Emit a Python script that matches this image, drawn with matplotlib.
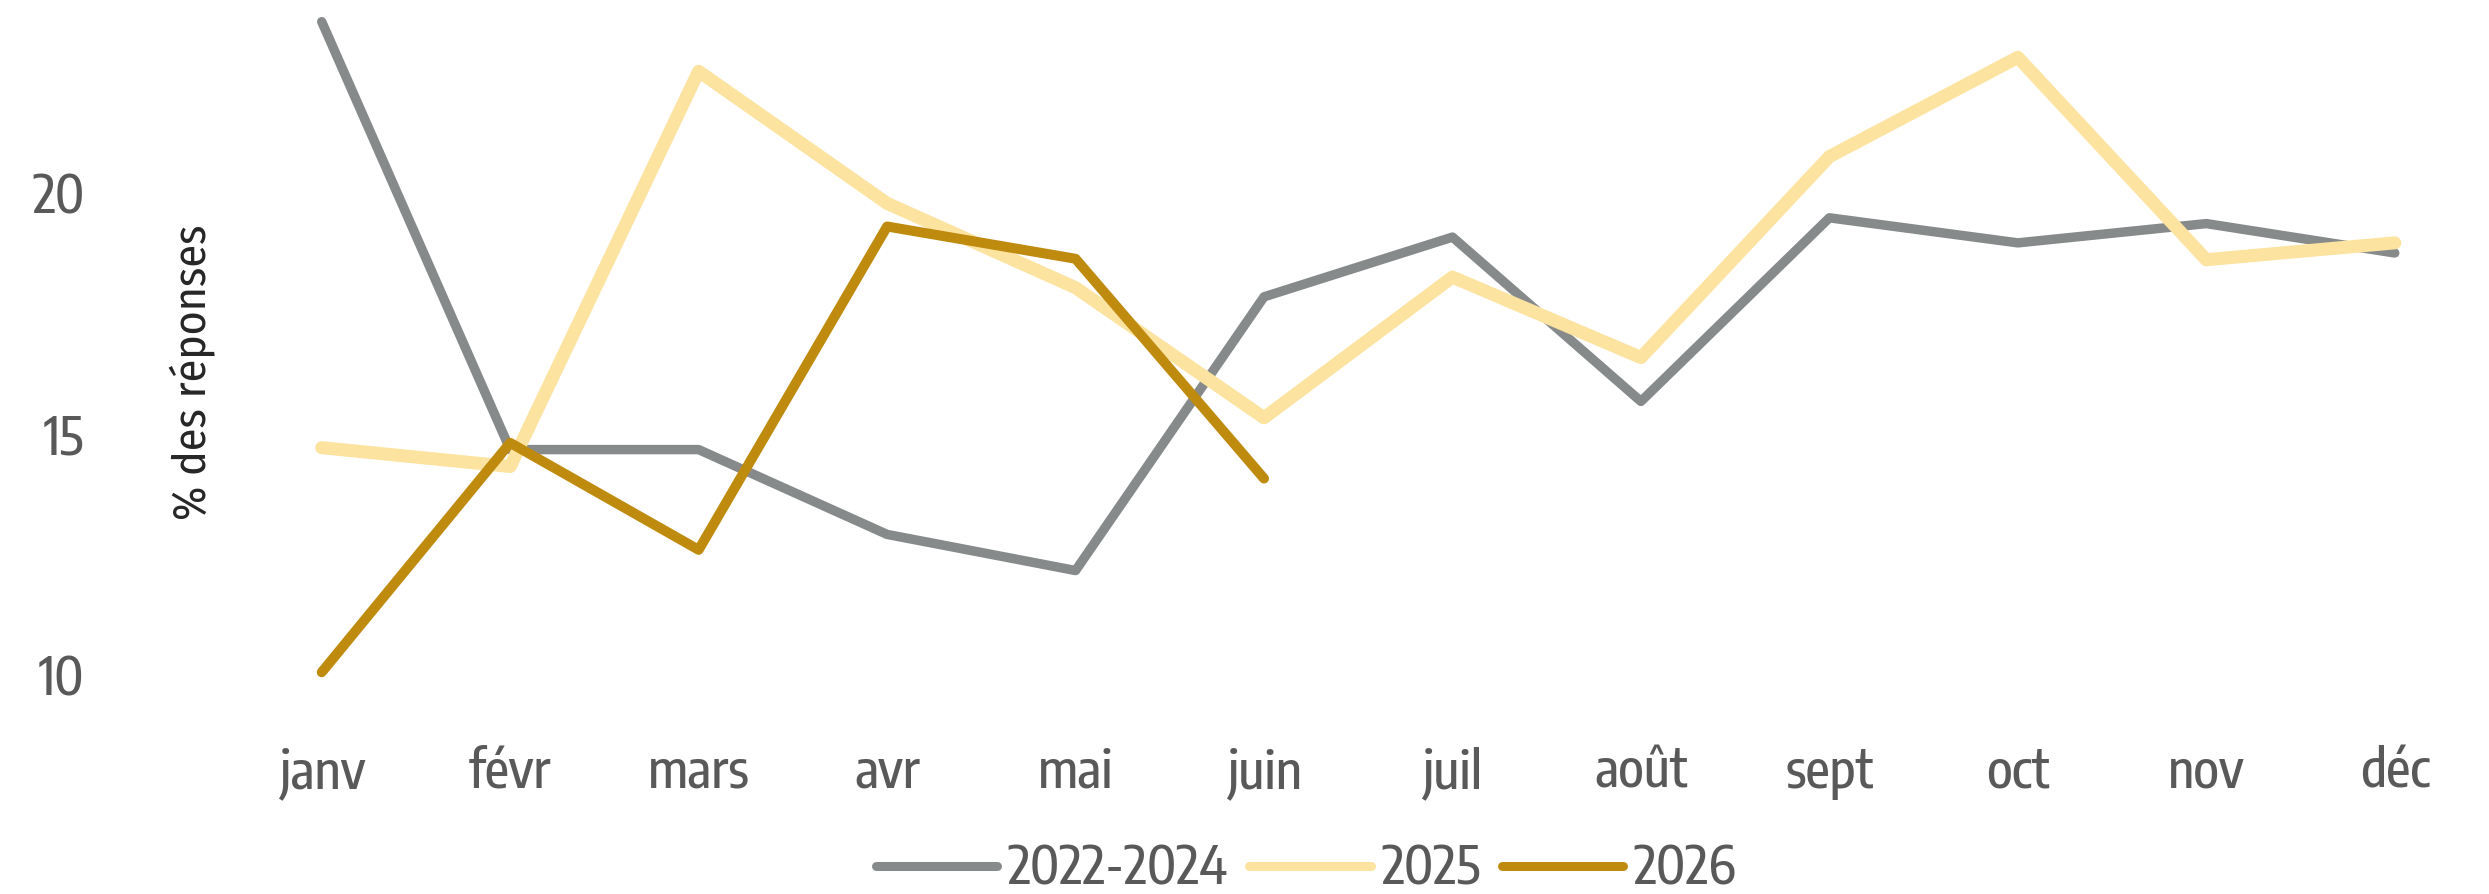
import matplotlib
matplotlib.use("Agg")
import matplotlib.pyplot as plt
import numpy

months = ["janv", "févr", "mars", "avr", "mai", "juin",
          "juil", "août", "sept", "oct", "nov", "déc"]
ref_2022_2024 = [23.55, 14.67, 14.67, 12.91, 12.16, 17.84,
                 19.08, 15.67, 19.48, 18.96, 19.36, 18.75]
y_2025 = [14.71, 14.32, 22.52, 19.78, 18.03, 15.33,
          18.25, 16.58, 20.75, 22.81, 18.61, 18.96]
y_2026 = [10.05, 14.81, 12.59, 19.30, 18.63, 14.07]
yticks = [10, 15, 20]

def plot():
    tick_font = ["Encode Sans Condensed", "DejaVu Sans"]
    label_font = ["Fira Sans Condensed", "DejaVu Sans"]
    fig = plt.figure(figsize=(24.89, 8.94), dpi=100)
    ax = fig.add_axes([0.0914, 0.178, 0.9086, 0.822])
    x = numpy.arange(len(months))
    ax.plot(x, ref_2022_2024, color="#878a8a", lw=6.8,
            solid_capstyle="round", solid_joinstyle="round", label="2022-2024")
    ax.plot(x, y_2025, color="#fde3a0", lw=9.4,
            solid_capstyle="round", solid_joinstyle="round", label="2025")
    ax.plot(x[:len(y_2026)], y_2026, color="#bf8b0f", lw=7.2,
            solid_capstyle="round", solid_joinstyle="round", label="2026")
    ax.set_xlim(-0.5, 11.5)
    ax.set_ylim(8.75, 24.0)
    ax.set_xticks(x)
    ax.set_xticklabels(months, family=tick_font, fontsize=38,
                       fontweight=500, color="#595959")
    ax.set_yticks(yticks)
    ax.set_yticklabels([str(v) for v in yticks], family=tick_font,
                       fontsize=38, fontweight=500, color="#595959")
    ax.tick_params(axis="y", length=0, pad=103)
    ax.tick_params(axis="x", length=0, pad=8)
    for s in ax.spines.values():
        s.set_visible(False)
    fig.text(0.0775, 0.584, "% des réponses", rotation=90,
             ha="center", va="center", family=label_font, fontsize=33,
             color="#262626")
    leg = fig.legend(loc="center", bbox_to_anchor=(0.5247, 0.027), ncol=3,
                     frameon=False, handlelength=2.3, handletextpad=0.2,
                     columnspacing=0.4,
                     prop={"family": tick_font, "size": 38, "weight": 500})
    for t in leg.get_texts():
        t.set_color("#595959")
    for h in leg.get_lines():
        h.set_linewidth(6.5)
    fig.savefig("out.png", dpi=100)
    plt.close(fig)

if __name__ == "__main__":
    plot()
